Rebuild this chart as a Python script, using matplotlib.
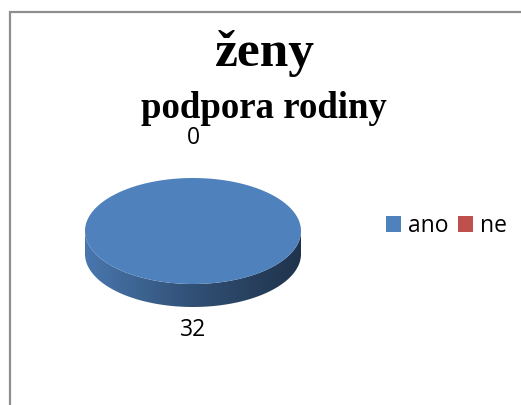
import numpy as np
import matplotlib
matplotlib.use("Agg")
import matplotlib.pyplot as plt
from matplotlib.patches import Polygon, Patch
from matplotlib.colors import LinearSegmentedColormap, to_rgb

# ---- data ----
title = "ženy"
subtitle = "podpora rodiny"
categories = ["ano", "ne"]
values = [32, 0]
colors = ["#4F81BD", "#C0504D"]

# ---- geometry (pixel space) ----
W, H = 521, 405
cx, cy = 193, 231
a, b = 108, 53
depth = 23

fig = plt.figure(figsize=(W / 100, H / 100), dpi=100)
ax = fig.add_axes([0, 0, 1, 1])

# border (top and left visible)
ax.plot([10, 10, W + 5], [H + 5, 11.5, 11.5], color="#8f8f8f", lw=1.6,
        solid_joinstyle="miter")

total = float(sum(values))
fracs = [v / total for v in values]

def pt(t, dy=0.0):
    return cx + a * np.sin(t), cy - b * np.cos(t) + dy

def darken(c, f):
    r, g, bb = to_rgb(c)
    return (r * f, g * f, bb * f)

start = 0.0
label_angles = []
for cat, frac, col in zip(categories, fracs, colors):
    span = frac * 2 * np.pi
    end = start + span
    label_angles.append(start + span / 2)
    if span > 0:
        # side wall (front half: angles between pi/2 and 3pi/2)
        s0, s1 = max(start, np.pi / 2), min(end, 3 * np.pi / 2)
        if s1 > s0:
            ts = np.linspace(s0, s1, 200)
            xs, ys = pt(ts)
            xb, yb = pt(ts[::-1], depth)
            side = Polygon(np.column_stack([np.r_[xs, xb], np.r_[ys, yb]]),
                           closed=True, facecolor="none", edgecolor="none")
            ax.add_patch(side)
            cmap = LinearSegmentedColormap.from_list(
                "side", [darken(col, 0.92), darken(col, 0.62), darken(col, 0.40)])
            grad = np.linspace(0, 1, 256)[None, :]
            im = ax.imshow(grad, cmap=cmap, aspect="auto",
                           extent=(cx - a, cx + a, cy + b + depth, cy - b),
                           interpolation="bilinear", zorder=1)
            im.set_clip_path(side)
        # top face
        ts = np.linspace(start, end, 400)
        xs, ys = pt(ts)
        top = Polygon(np.column_stack([np.r_[cx, xs], np.r_[cy, ys]]),
                      closed=True, facecolor=col, edgecolor="none", zorder=2)
        ax.add_patch(top)
    start = end

# data labels
for v, t in zip(values, label_angles):
    c = np.cos(t)
    lx = cx + a * np.sin(t) * 0.0
    if c >= 0:
        ly = cy - b * 1.75 * c
    else:
        ly = cy - b * 1.43 * c + depth
    ax.text(lx, ly, f"{v}", ha="center", va="center", fontsize=16.5,
            family="Open Sans", color="black", zorder=3)

# titles
ax.text(265, 66, title, ha="center", va="baseline", fontsize=37,
        family="Liberation Serif", weight="bold")
ax.text(264, 118, subtitle, ha="center", va="baseline", fontsize=26.5,
        family="Liberation Serif", weight="bold")

# legend
handles = [Patch(facecolor=c, edgecolor="none", label=l)
           for c, l in zip(colors, categories)]
leg = ax.legend(handles=handles, loc="center left",
                bbox_to_anchor=(386 / W, 1 - 226 / H), ncol=2, frameon=False,
                prop={"family": "Open Sans", "size": 16.5}, borderpad=0,
                borderaxespad=0, handlelength=0.66, handleheight=0.66,
                handletextpad=0.3, columnspacing=0.42)

ax.set_xlim(0, W)
ax.set_ylim(H, 0)
ax.axis("off")
fig.savefig("out.png", dpi=100)
